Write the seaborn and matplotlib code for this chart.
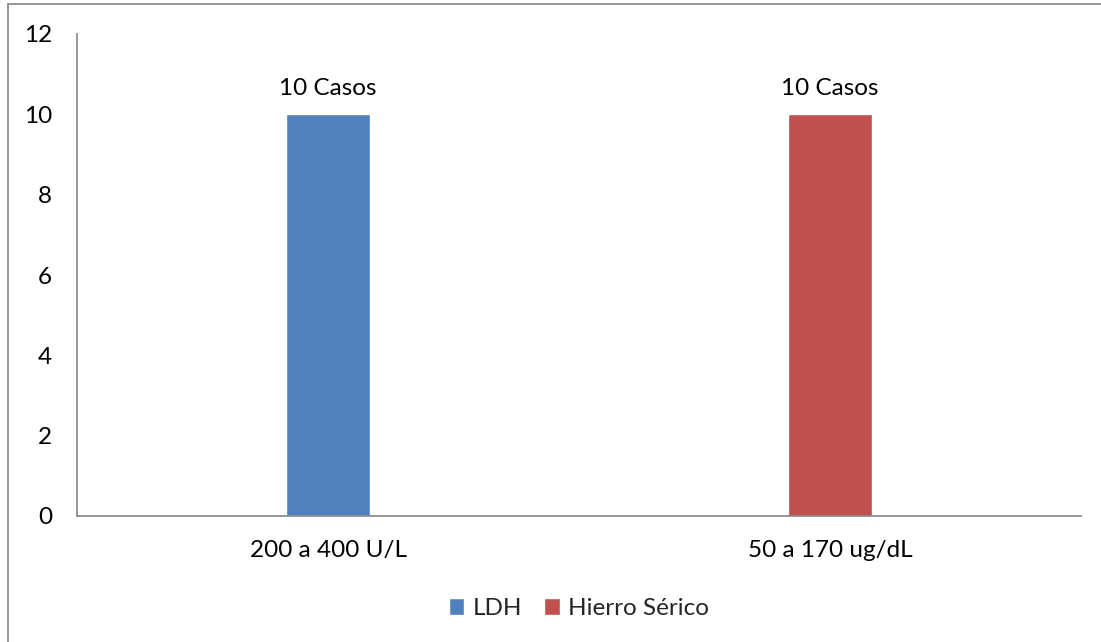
import matplotlib
matplotlib.use("Agg")
import matplotlib.pyplot as plt
import pandas as pd
import seaborn as sns
from matplotlib.patches import Rectangle

# Data
categories = ["200 a 400 U/L", "50 a 170 ug/dL"]
series = ["LDH", "Hierro Sérico"]
values = [10, 10]
bar_labels = ["10 Casos", "10 Casos"]
colors = ["#4F81BD", "#C0504D"]

df = pd.DataFrame({"categoria": categories, "serie": series, "valor": values})

sns.set_style("white")
plt.rcParams["font.family"] = ["Lato", "DejaVu Sans"]

fig = plt.figure(figsize=(11.01, 6.42), dpi=100)
ax = fig.add_axes([77 / 1101, 1 - 516 / 642, (1081 - 77) / 1101, (516 - 34) / 642])

sns.barplot(data=df, x="categoria", y="valor", hue="serie", palette=colors,
            dodge=False, width=0.166, ax=ax, saturation=1)

fs = 17.5
for cont, lab in zip(ax.containers, bar_labels):
    ax.bar_label(cont, labels=[lab], padding=11, fontsize=fs, color="black")

ax.set_ylim(0, 12)
ax.set_yticks(range(0, 13, 2))
ax.set_xlim(-0.5, 1.5)
ax.set_xlabel("")
ax.set_ylabel("")
ax.tick_params(axis="both", length=0, labelsize=fs, colors="black")
ax.tick_params(axis="y", pad=18)
ax.tick_params(axis="x", pad=17)
for side in ["top", "right"]:
    ax.spines[side].set_visible(False)
for side in ["left", "bottom"]:
    ax.spines[side].set_color("#8C8C8C")
    ax.spines[side].set_linewidth(1.3)

ax.legend(loc="upper center", bbox_to_anchor=(0.5, -0.125), ncol=2, frameon=False,
          fontsize=fs, handlelength=0.65, handleheight=0.65, handletextpad=0.35,
          columnspacing=0.9)

# outer chart border (left and top edges visible, others run off the image)
fig.patches.append(Rectangle((8, -100), 1300, 738, transform=None, fill=False,
                             edgecolor="#8C8C8C", linewidth=1.3))

fig.savefig("out.png", dpi=100)
